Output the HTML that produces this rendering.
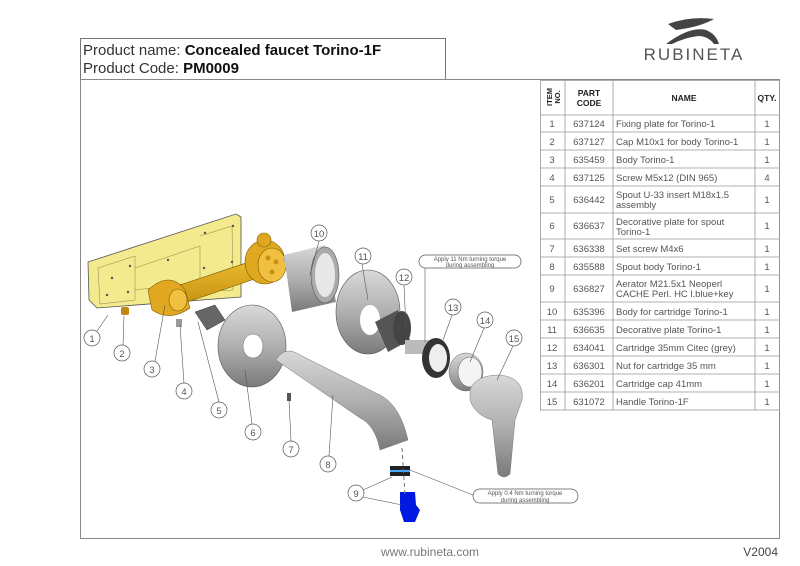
<!DOCTYPE html>
<html><head><meta charset="utf-8"><style>
body{margin:0;background:#fff;width:800px;height:566px;overflow:hidden;font-family:"Liberation Sans",sans-serif;}
svg{position:absolute;left:0;top:0}
.t{font-family:"Liberation Sans",sans-serif;fill:#555;font-size:9.5px}
</style></head><body>
<svg width="800" height="566" viewBox="0 0 800 566" xmlns="http://www.w3.org/2000/svg">
<defs>
<linearGradient id="g" x1="0" y1="0" x2="0" y2="1"><stop offset="0" stop-color="#d8d8d8"/><stop offset=".5" stop-color="#b0b0b0"/><stop offset="1" stop-color="#7a7a7a"/></linearGradient>
<linearGradient id="y" x1="0" y1="0" x2="0" y2="1"><stop offset="0" stop-color="#f0c030"/><stop offset="1" stop-color="#c08a10"/></linearGradient>
</defs>
<!-- logo -->
<path d="M668 24 Q690 16 714 19 Q700 27 676 30 Z" fill="#444"/>
<path d="M666 44 Q690 26 706 30 Q716 34 719 44 L714 44 Q708 36 698 36 Q684 38 672 44 Z" fill="#444"/>
<text x="694" y="60" text-anchor="middle" style="font-family:'Liberation Sans',sans-serif;font-size:17px;letter-spacing:2px;fill:#555">RUBINETA</text>
<!-- header box -->
<rect x="80.5" y="38.5" width="365" height="41" fill="none" stroke="#777"/>
<text x="83" y="55" style="font-size:15px;fill:#333">Product name: <tspan font-weight="bold" fill="#111">Concealed faucet Torino-1F</tspan></text>
<text x="83" y="73" style="font-size:15px;fill:#333">Product Code: <tspan font-weight="bold" fill="#111">PM0009</tspan></text>
<!-- frame -->
<rect x="80.5" y="79.5" width="699" height="459" fill="none" stroke="#888"/>
<text x="430" y="556" text-anchor="middle" style="font-size:12px;fill:#777">www.rubineta.com</text>
<text x="778" y="556" text-anchor="end" style="font-size:12px;fill:#444">V2004</text>
<!-- table -->
<g stroke="#999" stroke-width=".8" fill="none">
<rect x="540.5" y="80.5" width="239" height="329.5"/>
<line x1="565" y1="80" x2="565" y2="410"/><line x1="613" y1="80" x2="613" y2="410"/><line x1="755" y1="80" x2="755" y2="410"/>
<line x1="540" y1="115" x2="780" y2="115"/><line x1="540" y1="132" x2="780" y2="132"/><line x1="540" y1="150" x2="780" y2="150"/><line x1="540" y1="168" x2="780" y2="168"/><line x1="540" y1="186" x2="780" y2="186"/><line x1="540" y1="213" x2="780" y2="213"/><line x1="540" y1="239" x2="780" y2="239"/><line x1="540" y1="257" x2="780" y2="257"/><line x1="540" y1="275" x2="780" y2="275"/><line x1="540" y1="302" x2="780" y2="302"/><line x1="540" y1="320" x2="780" y2="320"/><line x1="540" y1="338" x2="780" y2="338"/><line x1="540" y1="356" x2="780" y2="356"/><line x1="540" y1="374" x2="780" y2="374"/><line x1="540" y1="392" x2="780" y2="392"/>
</g>
<g style="font-size:8.5px;fill:#222;font-weight:bold" text-anchor="middle">
<text transform="translate(552,97) rotate(-90)" font-size="7.5">ITEM</text><text transform="translate(560,97) rotate(-90)" font-size="7.5">NO.</text>
<text x="589" y="96">PART</text><text x="589" y="106">CODE</text>
<text x="684" y="101">NAME</text><text x="767" y="101">QTY.</text>
</g>
<g class="t" text-anchor="middle">
<text x="552" y="127">1</text><text x="552" y="145">2</text><text x="552" y="163">3</text><text x="552" y="181">4</text><text x="552" y="203">5</text><text x="552" y="229">6</text><text x="552" y="252">7</text><text x="552" y="270">8</text><text x="552" y="292">9</text><text x="552" y="315">10</text><text x="552" y="333">11</text><text x="552" y="351">12</text><text x="552" y="369">13</text><text x="552" y="387">14</text><text x="552" y="405">15</text>
<text x="589" y="127">637124</text><text x="589" y="145">637127</text><text x="589" y="163">635459</text><text x="589" y="181">637125</text><text x="589" y="203">636442</text><text x="589" y="229">636637</text><text x="589" y="252">636338</text><text x="589" y="270">635588</text><text x="589" y="292">636827</text><text x="589" y="315">635396</text><text x="589" y="333">636635</text><text x="589" y="351">634041</text><text x="589" y="369">636301</text><text x="589" y="387">636201</text><text x="589" y="405">631072</text>
<text x="767" y="127">1</text><text x="767" y="145">1</text><text x="767" y="163">1</text><text x="767" y="181">4</text><text x="767" y="203">1</text><text x="767" y="229">1</text><text x="767" y="252">1</text><text x="767" y="270">1</text><text x="767" y="292">1</text><text x="767" y="315">1</text><text x="767" y="333">1</text><text x="767" y="351">1</text><text x="767" y="369">1</text><text x="767" y="387">1</text><text x="767" y="405">1</text>
</g>
<g class="t">
<text x="616" y="127">Fixing plate for Torino-1</text><text x="616" y="145">Cap M10x1 for body Torino-1</text><text x="616" y="163">Body Torino-1</text><text x="616" y="181">Screw M5x12 (DIN 965)</text>
<text x="616" y="198">Spout U-33 insert M18x1.5</text><text x="616" y="208">assembly</text>
<text x="616" y="225">Decorative plate for spout</text><text x="616" y="235">Torino-1</text>
<text x="616" y="252">Set screw M4x6</text><text x="616" y="270">Spout body Torino-1</text>
<text x="616" y="287">Aerator M21.5x1 Neoperl</text><text x="616" y="297">CACHE Perl. HC l.blue+key</text>
<text x="616" y="315">Body for cartridge Torino-1</text><text x="616" y="333">Decorative plate Torino-1</text><text x="616" y="351">Cartridge 35mm Citec (grey)</text><text x="616" y="369">Nut for cartridge 35 mm</text><text x="616" y="387">Cartridge cap 41mm</text><text x="616" y="405">Handle Torino-1F</text>
</g>
<!-- drawing -->
<path d="M88 262 L236 214 L241 217 L241 297 L97 308 L89 300 Z" fill="#f2ea8c" stroke="#555" stroke-width=".8"/>
<g fill="none" stroke="#8a8450" stroke-width=".5"><path d="M98 268 L135 256 L135 300 L100 304 Z"/><path d="M135 268 L200 246 L200 282 L135 290"/><path d="M200 236 L232 226 L233 290 L200 292"/></g>
<g fill="#555"><circle cx="112" cy="278" r="1.2"/><circle cx="107" cy="295" r="1.2"/><circle cx="128" cy="292" r="1.2"/><circle cx="130" cy="266" r="1.2"/><circle cx="168" cy="260" r="1.2"/><circle cx="205" cy="233" r="1.2"/><circle cx="233" cy="226" r="1.2"/><circle cx="232" cy="262" r="1.2"/><circle cx="204" cy="268" r="1.2"/></g>
<path d="M150 295 L270 255 L275 272 L158 312 Z" fill="url(#y)" stroke="#7a5a00" stroke-width=".6"/>
<ellipse cx="265" cy="262" rx="20" ry="22" fill="#e0a820" stroke="#7a5a00" stroke-width=".6"/>
<ellipse cx="272" cy="265" rx="14" ry="17" fill="#f0c040" stroke="#7a5a00" stroke-width=".6"/>
<g fill="#c89010"><circle cx="268" cy="258" r="2.5"/><circle cx="276" cy="262" r="2.5"/><circle cx="272" cy="272" r="2.5"/></g>
<circle cx="264" cy="240" r="7" fill="#e0a820" stroke="#7a5a00" stroke-width=".6"/>
<path d="M148 290 Q170 270 185 290 L190 308 Q170 322 152 310 Z" fill="#e2a820" stroke="#7a5a00" stroke-width=".6"/>
<ellipse cx="178" cy="300" rx="9" ry="11" fill="#f0c040" stroke="#7a5a00" stroke-width=".6"/>
<rect x="121" y="307" width="8" height="8" rx="2" fill="#c08a10"/>
<rect x="176" y="319" width="6" height="8" fill="#999"/><rect x="284" y="255" width="6" height="7" fill="#999"/>
<path d="M195 312 L215 305 L225 320 L207 330 Z" fill="#666" stroke="#333" stroke-width=".5"/>
<ellipse cx="252" cy="346" rx="34" ry="41" fill="url(#g)" stroke="#555" stroke-width=".6"/>
<ellipse cx="253" cy="346" rx="10" ry="12" fill="#fff" stroke="#666" stroke-width=".5"/>
<path d="M284 255 L325 245 L336 302 L292 312 Z" fill="url(#g)"/>
<ellipse cx="325" cy="275" rx="14" ry="28" fill="#aaa" stroke="#555" stroke-width=".6"/>
<ellipse cx="325" cy="275" rx="10" ry="22" fill="#e8e8e8"/>
<ellipse cx="368" cy="312" rx="32" ry="42" fill="url(#g)" stroke="#555" stroke-width=".6"/>
<ellipse cx="370" cy="320" rx="10" ry="15" fill="#fff"/>
<path d="M375 322 L398 310 L410 340 L388 352 Z" fill="#555"/>
<ellipse cx="402" cy="328" rx="9" ry="17" fill="#444"/>
<rect x="405" y="340" width="28" height="14" fill="#bbb"/>
<ellipse cx="436" cy="358" rx="14" ry="20" fill="#333"/><ellipse cx="438" cy="358" rx="9" ry="14" fill="#eee"/>
<ellipse cx="466" cy="372" rx="17" ry="19" fill="url(#g)" stroke="#666" stroke-width=".5"/><ellipse cx="470" cy="372" rx="12" ry="15" fill="#f4f4f4" stroke="#555" stroke-width=".5"/>
<path d="M470 390 Q475 375 500 375 Q525 378 522 400 L515 420 L510 474 Q504 480 498 474 L492 420 Q475 415 470 400 Z" fill="url(#g)" stroke="#777" stroke-width=".5"/>
<path d="M276 360 Q285 345 300 355 L380 395 Q400 405 408 440 L380 450 Q375 425 360 418 Z" fill="url(#g)" stroke="#777" stroke-width=".5"/>
<rect x="287" y="393" width="4" height="8" fill="#555"/>
<rect x="390" y="466" width="20" height="10" fill="#222"/><rect x="390" y="470" width="20" height="2" fill="#4af"/>
<path d="M400 492 L415 492 L416 505 L420 510 L415 522 L404 522 L400 510 Z" fill="#0018e0"/>
<line x1="402" y1="448" x2="405" y2="495" stroke="#777" stroke-dasharray="4 3"/>
<!-- leaders -->
<g stroke="#555" stroke-width=".6" fill="none">
<line x1="97" y1="331" x2="108" y2="315"/><line x1="123" y1="345" x2="124" y2="316"/><line x1="155" y1="361" x2="165" y2="305"/><line x1="184" y1="383" x2="180" y2="325"/><line x1="219" y1="402" x2="198" y2="322"/><line x1="252" y1="424" x2="245" y2="370"/><line x1="291" y1="441" x2="289" y2="400"/><line x1="329" y1="456" x2="333" y2="395"/>
<line x1="319" y1="241" x2="310" y2="275"/><line x1="362" y1="264" x2="368" y2="300"/><line x1="404" y1="285" x2="406" y2="330"/><line x1="452" y1="315" x2="443" y2="340"/><line x1="484" y1="328" x2="470" y2="362"/><line x1="513" y1="346" x2="497" y2="380"/>
<line x1="363" y1="490" x2="392" y2="477"/><line x1="363" y1="497" x2="402" y2="505"/><line x1="425" y1="261" x2="425" y2="342"/><line x1="473" y1="495" x2="410" y2="470"/>
</g>
<g fill="#fff" stroke="#555" stroke-width=".7">
<circle cx="92" cy="338" r="8"/><circle cx="122" cy="353" r="8"/><circle cx="152" cy="369" r="8"/><circle cx="184" cy="391" r="8"/><circle cx="219" cy="410" r="8"/><circle cx="253" cy="432" r="8"/><circle cx="291" cy="449" r="8"/><circle cx="328" cy="464" r="8"/><circle cx="356" cy="493" r="8"/><circle cx="319" cy="233" r="8"/><circle cx="363" cy="256" r="8"/><circle cx="404" cy="277" r="8"/><circle cx="453" cy="307" r="8"/><circle cx="485" cy="320" r="8"/><circle cx="514" cy="338" r="8"/>
<rect x="419" y="255" width="102" height="13" rx="6.5"/><rect x="473" y="489" width="105" height="14" rx="7"/>
</g>
<g class="t" text-anchor="middle" font-size="10">
<text x="92" y="342">1</text><text x="122" y="357">2</text><text x="152" y="373">3</text><text x="184" y="395">4</text><text x="219" y="414">5</text><text x="253" y="436">6</text><text x="291" y="453">7</text><text x="328" y="468">8</text><text x="356" y="497">9</text><text x="319" y="237">10</text><text x="363" y="260">11</text><text x="404" y="281">12</text><text x="453" y="311">13</text><text x="485" y="324">14</text><text x="514" y="342">15</text>
</g>
<g class="t" text-anchor="middle" style="font-size:6px">
<text x="470" y="261">Apply 11 Nm turning torque</text><text x="470" y="267">during assembling</text>
<text x="525" y="495">Apply 0.4 Nm turning torque</text><text x="525" y="502">during assembling</text>
</g>
</svg>
</body></html>
